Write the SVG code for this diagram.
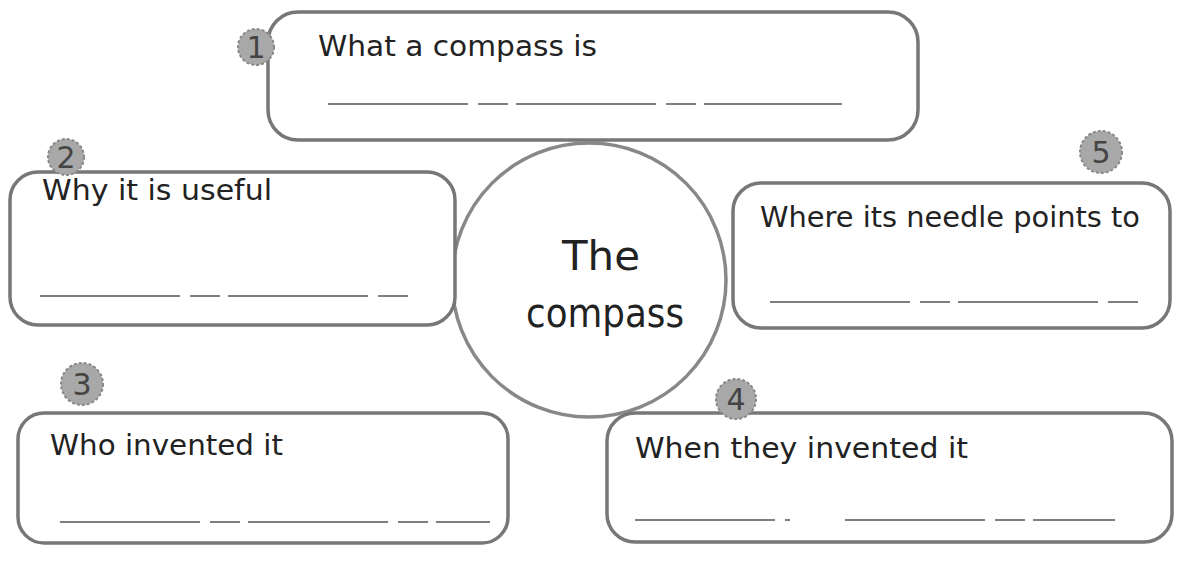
<svg xmlns="http://www.w3.org/2000/svg" width="1180" height="568" viewBox="0 0 1180 568">
<style>
.box{fill:#fff;stroke:#777;stroke-width:3.5}
.line{stroke:#555;stroke-width:1.5;stroke-dasharray:140 10 30 8}
.lbl{font-family:"DejaVu Sans",sans-serif;font-size:28px;fill:#222}
.badge{fill:#a8a8a8;stroke:#888;stroke-width:2;stroke-dasharray:3 2}
.num{font-family:"DejaVu Sans",sans-serif;font-size:30px;fill:#444;text-anchor:middle}
.center{font-family:"DejaVu Sans",sans-serif;font-size:40px;fill:#222;text-anchor:middle}
</style>
<rect width="1180" height="568" fill="#fff"/>
<g id="connectors"></g>
<g id="center">
<circle cx="589" cy="280" r="137" fill="#fff" stroke="#888" stroke-width="3.5"/>
<text class="center" x="601" y="270" textLength="78" lengthAdjust="spacingAndGlyphs">The</text>
<text class="center" x="605" y="327" textLength="158" lengthAdjust="spacingAndGlyphs">compass</text>
</g>
<g id="node1">
<rect class="box" x="268" y="12" width="650" height="128" rx="30"/>
<line class="line" x1="328" y1="104" x2="842" y2="104"/>
<text class="lbl" x="318" y="56" textLength="279" lengthAdjust="spacingAndGlyphs">What a compass is</text>
<circle class="badge" cx="256" cy="47" r="18"/>
<text class="num" x="256" y="58">1</text>
</g>
<g id="node2">
<rect class="box" x="10" y="172" width="445" height="153" rx="28"/>
<line class="line" x1="40" y1="296" x2="415" y2="296"/>
<text class="lbl" x="42" y="200" textLength="230" lengthAdjust="spacingAndGlyphs">Why it is useful</text>
<circle class="badge" cx="66" cy="157" r="18"/>
<text class="num" x="66" y="168">2</text>
</g>
<g id="node5">
<rect class="box" x="733" y="183" width="437" height="145" rx="28"/>
<line class="line" x1="770" y1="302" x2="1140" y2="302"/>
<text class="lbl" x="760" y="227" textLength="380" lengthAdjust="spacingAndGlyphs">Where its needle points to</text>
<circle class="badge" cx="1101" cy="152" r="21"/>
<text class="num" x="1101" y="163">5</text>
</g>
<g id="node3">
<rect class="box" x="18" y="413" width="490" height="130" rx="26"/>
<line class="line" x1="60" y1="522" x2="490" y2="522"/>
<text class="lbl" x="50" y="455" textLength="233" lengthAdjust="spacingAndGlyphs">Who invented it</text>
<circle class="badge" cx="82" cy="384" r="21"/>
<text class="num" x="82" y="395">3</text>
</g>
<g id="node4">
<rect class="box" x="607" y="413" width="565" height="129" rx="28"/>
<line class="line" x1="635" y1="520" x2="790" y2="520"/>
<line class="line" x1="845" y1="520" x2="1115" y2="520"/>
<text class="lbl" x="635" y="458" textLength="333" lengthAdjust="spacingAndGlyphs">When they invented it</text>
<circle class="badge" cx="736" cy="399" r="20"/>
<text class="num" x="736" y="410">4</text>
</g>
</svg>
